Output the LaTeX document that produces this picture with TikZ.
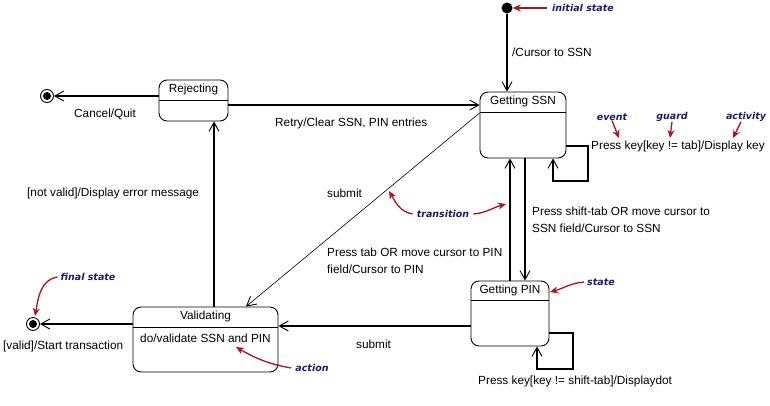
\documentclass[tikz,border=0pt]{standalone}
\usepackage{fontspec}
\setmainfont{Liberation Sans}
\newfontfamily\notefamily{DejaVu Sans}
\usetikzlibrary{arrows.meta}
\usetikzlibrary{calc}

\definecolor{notenavy}{RGB}{28,28,110}
\definecolor{notered}{RGB}{178,18,30}

\tikzset{
	statebox/.style={draw, line width=0.9pt, rounded corners=8pt, inner sep=0pt},
	stitle/.style={anchor=north, minimum height=20pt, inner sep=0pt, font=\fontsize{11.8}{14}\selectfont},
	lbl/.style={inner sep=0pt, align=left, font=\fontsize{11.8}{17}\selectfont},
	note/.style={inner sep=0pt, text=notenavy, font=\notefamily\bfseries\itshape\fontsize{9.5}{11}\selectfont},
	trans/.style={line width=1.2pt, -{Straight Barb[length=9pt,width=10pt,line width=0.9pt]}},
	pointer/.style={draw=notered, line width=1.3pt, -{Stealth[length=8pt,width=7pt]}},
	initstate/.style={circle, fill=black, minimum size=11pt, inner sep=0pt},
	finalstate/.style={circle, draw, line width=0.9pt, minimum size=13pt, inner sep=0pt,
		path picture={\fill (path picture bounding box.center) circle (4pt);}},
}

\begin{document}
\begin{tikzpicture}[x=1pt,y=-1pt]
	\useasboundingbox (0,0) rectangle (770,405);

	% states
	\node[initstate] (init) at (507,8) {};
	\node[finalstate] (finA) at (47,96) {};
	\node[finalstate] (finB) at (33,324) {};

	\node[statebox, minimum width=86pt, minimum height=66pt] (ssn) at (523,125) {};
	\node[stitle] (ssnT) at (ssn.north) {Getting SSN};
	\draw[line width=0.9pt] (ssn.west |- ssnT.south) -- (ssn.east |- ssnT.south);

	\node[statebox, minimum width=69pt, minimum height=41pt] (rej) at (193.5,100.5) {};
	\node[stitle] (rejT) at (rej.north) {Rejecting};
	\draw[line width=0.9pt] (rej.west |- rejT.south) -- (rej.east |- rejT.south);

	\node[statebox, minimum width=145pt, minimum height=65pt] (val) at (205.5,339.5) {};
	\node[stitle] (valT) at (val.north) {Validating};
	\draw[line width=0.9pt] (val.west |- valT.south) -- (val.east |- valT.south);
	\node[lbl] (valDo) at (val.center |- 0,338) {do/validate SSN and PIN};

	\node[statebox, minimum width=78pt, minimum height=65pt] (pin) at (510,313.5) {};
	\node[stitle, minimum height=19pt] (pinT) at (pin.north) {Getting PIN};
	\draw[line width=0.9pt] (pin.west |- pinT.south) -- (pin.east |- pinT.south);

	% transitions
	\draw[trans] (init) -- (init |- ssn.north);
	\draw[trans] (rej.west |- finA) -- (finA);
	\draw[trans] (rej.east |- 0,105) -- (ssn.west |- 0,105);
	\draw[trans] (val.north -| 214,0) -- (rej.south -| 214,0);
	\draw[trans] (val.west |- finB) -- (finB);
	\draw[trans, line width=0.6pt] (ssn.west |- 0,113) -- (val.north -| 246,0);
	\draw[trans] (pin.west |- 0,326) -- (val.east |- 0,326);
	\draw[trans] (pin.north) -- (pin.north |- ssn.south);
	\draw[trans] (ssn.south -| 525,0) -- (pin.north -| 525,0);
	\draw[trans] (ssn.east |- 0,146) -| (588,181) -| (ssn.south -| 553,0);
	\draw[trans] (pin.east |- 0,333) -| (573,369) -| (pin.south -| 537,0);

	\node[lbl, anchor=west] (lCursor) at (512,52) {/Cursor to SSN};
	\node[lbl, anchor=west] (lCancel) at (74,114) {Cancel/Quit};
	\node[lbl, anchor=west] (lRetry) at (275,123) {Retry/Clear SSN, PIN entries};
	\node[lbl, anchor=west] (lNotValid) at (27,193) {[not valid]/Display error message};
	\node[lbl, anchor=west] (lSubmitA) at (327,193) {submit};
	\node[lbl, anchor=west] (lTab) at (327,260.5) {Press tab OR move cursor to PIN\\field/Cursor to PIN};
	\node[lbl, anchor=west] (lShiftTab) at (532,219.5) {Press shift-tab OR move cursor to\\SSN field/Cursor to SSN};
	\node[lbl, anchor=west] (lKeyTab) at (591,146) {Press key[key != tab]/Display key};
	\node[lbl, anchor=west] (lKeyShift) at (478,381) {Press key[key != shift-tab]/Displaydot};
	\node[lbl, anchor=west] (lSubmitB) at (356,344) {submit};
	\node[lbl, anchor=west] (lValid) at (3,346) {[valid]/Start transaction};

	% notes
	\node[note, anchor=west] (nInit) at (552,8) {initial state};
	\draw[pointer] ([xshift=-5pt]nInit.west) -- (init.east);

	\node[note] (nEvent) at (612,117) {event};
	\node[note] (nGuard) at (672,117) {guard};
	\node[note] (nActivity) at (746,117) {activity};
	\coordinate (cEvent) at (619,138);
	\coordinate (cGuard) at (670,138);
	\coordinate (cActivity) at (733,138);
	\draw[pointer] (nEvent.south) -- (cEvent);
	\draw[pointer] (nGuard.south) -- (cGuard);
	\draw[pointer] ([xshift=-5pt]nActivity.south) -- (cActivity);

	\node[note] (nTrans) at (443,214) {transition};
	\coordinate (cTransA) at (389,191);
	\coordinate (cTransB) at (506,204);
	\draw[pointer] ([xshift=-4pt]nTrans.west) to[out=170,in=-60] (cTransA);
	\draw[pointer] ([xshift=4pt]nTrans.east) to[out=5,in=195] (cTransB);

	\node[note] (nState) at (601,282) {state};
	\coordinate (cState) at (550,292);
	\draw[pointer] ([xshift=-3pt]nState.west) to[out=185,in=15] (cState);

	\node[note] (nFinal) at (88,277) {final state};
	\coordinate (cFinal) at (35,316);
	\draw[pointer] ([xshift=-3pt]nFinal.west) to[out=190,in=80] (cFinal);

	\node[note] (nAction) at (312,368) {action};
	\coordinate (cAction) at (236,347);
	\draw[pointer] ([xshift=-4pt]nAction.west) to[out=170,in=-30] (cAction);
\end{tikzpicture}
\end{document}
